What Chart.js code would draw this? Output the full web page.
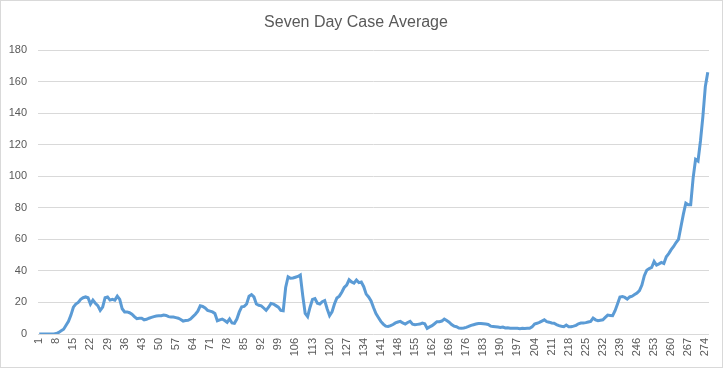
<!DOCTYPE html>
<html>
<head>
<meta charset="utf-8">
<script src="https://cdn.jsdelivr.net/npm/chart.js@4/dist/chart.umd.min.js"></script>
<style>
  html, body { margin: 0; padding: 0; background: #fff; }
  #wrap { width: 723px; height: 368px; box-sizing: border-box; border: 1px solid #d9d9d9; }
</style>
</head>
<body>
<div id="wrap"><canvas id="lineChart" width="721" height="366"></canvas></div>
<script>
const chartTitle = "Seven Day Case Average";
const yTicks = [0, 20, 40, 60, 80, 100, 120, 140, 160, 180];
const labelStep = 7; // a day label every 7 days: 1, 8, 15 ... 274

// one value per day, days 1..275
const caseAverage = [
  0, 0, 0, 0, 0, 0, 0, 0.3, 1, 2,
  3, 5.5, 8, 12, 17, 19, 20, 22, 23, 23.5,
  23, 19, 21.5, 19.5, 18, 15, 17, 23, 23.5, 21.5,
  22, 21.5, 24, 22, 16, 14, 14, 13.5, 12.5, 11,
  9.7, 10, 10, 9, 9.3, 10, 10.5, 11, 11.4, 11.5,
  11.6, 12, 11.8, 11, 10.8, 10.8, 10.4, 10, 9.2, 8.2,
  8.5, 8.7, 9.5, 11, 12.5, 14.5, 17.9, 17.5, 16.5, 15,
  14.5, 14, 13, 8.4, 9, 9.5, 8.5, 7.4, 9.5, 7,
  6.8, 9.5, 14, 17.2, 17.5, 19, 24, 25, 23.5, 19,
  18.2, 17.9, 16.5, 15, 17, 19.4, 19, 18, 17, 15,
  14.7, 29.5, 36.3, 35.4, 35.5, 36, 36.5, 37.4, 24.3, 13,
  11, 17, 22, 22.5, 19.5, 19, 20.5, 21.2, 16, 11.6,
  14, 19, 22.8, 24, 26.5, 29.5, 31, 34.4, 33, 32.3,
  34.2, 32.6, 33, 30, 25.3, 23.5, 21, 16.8, 13, 10.5,
  8, 6.3, 5, 4.8, 5.3, 6, 7, 7.6, 8, 7,
  6.3, 7.3, 8, 6.2, 5.9, 6.1, 6.3, 6.9, 6.5, 3.6,
  4.5, 5.3, 6.5, 7.8, 7.8, 8.2, 9.5, 8.5, 7.5, 6,
  5, 4.6, 3.8, 3.6, 3.8, 4.2, 4.8, 5.5, 5.9, 6.3,
  6.7, 6.6, 6.5, 6.3, 6, 5, 4.8, 4.6, 4.4, 4.2,
  4.4, 3.8, 3.9, 3.6, 3.7, 3.6, 3.6, 3.4, 3.6, 3.5,
  3.6, 3.6, 4.5, 6.3, 6.8, 7.4, 8.2, 9, 7.8, 7.5,
  7, 6.8, 6, 5.3, 4.9, 4.6, 5.7, 4.6, 4.6, 5,
  5.5, 6.5, 7, 7, 7.2, 7.6, 8, 10.1, 9, 8.4,
  8.7, 9, 10.5, 12, 11.8, 11.6, 14.8, 19, 23.5, 23.8,
  23.2, 22.1, 23.5, 24, 25, 26, 27.5, 31, 37, 40.5,
  41.5, 42.2, 46, 43.7, 44.5, 45.4, 44.7, 49, 51, 53.5,
  55.5, 58, 60, 68, 76, 83, 82, 82, 99, 110.8,
  109.7, 122.4, 138, 157, 166
];
const days = caseAverage.map((v, i) => String(i + 1));

const textGrey = "#595959";
const fontFace = "'Liberation Sans', Arial, sans-serif";

// vertical day labels under the axis, placed by the x scale
const dayLabels = {
  id: "dayLabels",
  afterDraw(chart) {
    const x = chart.scales.x;
    const ctx = chart.ctx;
    ctx.save();
    ctx.fillStyle = textGrey;
    ctx.font = "11px " + fontFace;
    ctx.textAlign = "right";
    ctx.textBaseline = "middle";
    days.forEach((d, i) => {
      if (i % labelStep !== 0) return;
      ctx.save();
      ctx.translate(x.getPixelForValue(i), x.top + 4);
      ctx.rotate(-Math.PI / 2);
      ctx.fillText(d, 0, 0);
      ctx.restore();
    });
    ctx.restore();
  },
};

new Chart(document.getElementById("lineChart"), {
  type: "line",
  data: {
    labels: days,
    datasets: [{
      label: "Seven Day Case Average",
      data: caseAverage,
      borderColor: "#5b9bd5",
      borderWidth: 3,
      pointRadius: 0,
      tension: 0,
      fill: false,
    }],
  },
  options: {
    responsive: false,
    animation: false,
    layout: { padding: { top: 4, right: 13, bottom: 4, left: 2 } },
    plugins: {
      legend: { display: false },
      tooltip: { enabled: false },
      title: {
        display: true,
        text: chartTitle,
        color: textGrey,
        font: { family: fontFace, size: 16, weight: "normal" },
        padding: { top: 8, bottom: 18 },
      },
    },
    scales: {
      x: {
        offset: true,
        grid: { display: false },
        border: { display: false },
        ticks: { display: false },
        afterFit: (scale) => { scale.height = 29; },
      },
      y: {
        min: 0,
        max: 180,
        afterBuildTicks: (scale) => {
          scale.ticks = yTicks.map((v) => ({ value: v }));
        },
        afterFit: (scale) => { scale.width = 35; },
        grid: { color: "#d9d9d9", lineWidth: 1, drawTicks: false },
        border: { display: false },
        ticks: {
          padding: 11,
          color: textGrey,
          font: { family: fontFace, size: 11 },
        },
      },
    },
  },
  plugins: [dayLabels],
});
</script>
</body>
</html>
